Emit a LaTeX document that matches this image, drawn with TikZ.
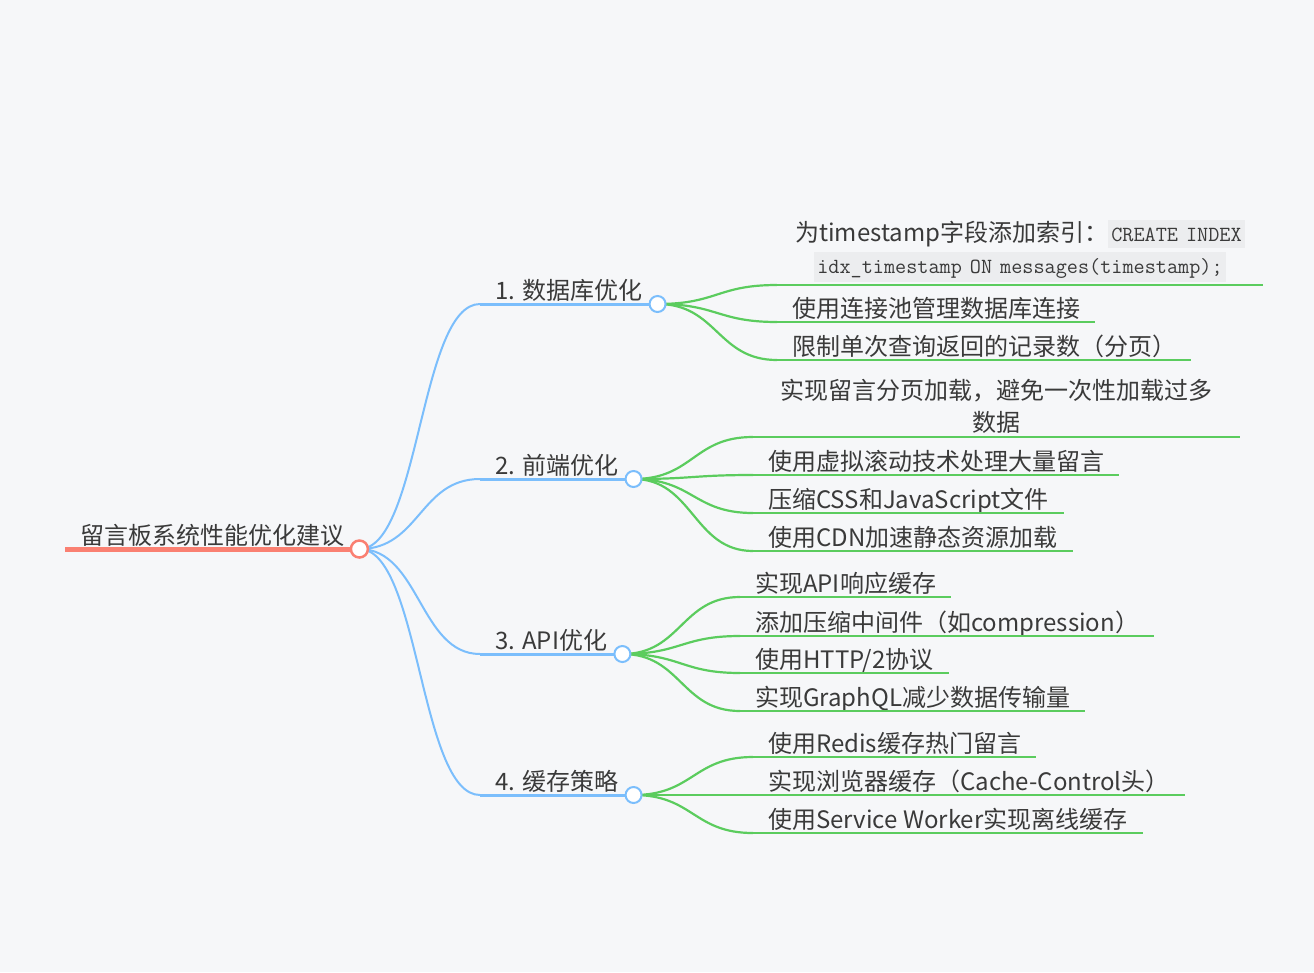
\documentclass[tikz,border=0pt]{standalone}
\usepackage{fontspec}
\setmainfont{Noto Sans CJK SC}
\usetikzlibrary{calc}
\definecolor{pagebg}{HTML}{F6F7F9}
\definecolor{rootcol}{HTML}{FA8072}
\definecolor{branchcol}{HTML}{7BBEFC}
\definecolor{twigcol}{HTML}{5BCC5E}
\definecolor{codebg}{HTML}{ECEDEF}
\definecolor{ink}{HTML}{3A3A3A}
\newcommand{\codebox}[1]{{\setlength{\fboxsep}{3pt}\colorbox{codebg}{\rule[-3pt]{0pt}{22pt}\fontsize{21.6}{24}\ttfamily #1}}}

\begin{document}
\begin{tikzpicture}[x=1pt, y=-1pt,
  every node/.style={font=\fontsize{24}{32}\selectfont, text=ink},
  topic/.style={anchor=south west, inner xsep=15pt, inner ysep=4pt, text depth=0pt},
  wrapped/.style={anchor=south, align=center, text width=#1, inner ysep=3pt},
  link/.style={to path={let \p1=(\tikztostart), \p2=(\tikztotarget) in
    .. controls ({(\x1+\x2)/2},\y1) and ({(\x1+\x2)/2},\y2) .. (\tikztotarget)}},
  branch/.style={branchcol, line width=2pt},
  twig/.style={twigcol, line width=2.2pt},
  knob/.style={circle, fill=white, line width=2pt, minimum size=16pt, inner sep=0pt}]

  \fill[pagebg] (0,0) rectangle (1314,972);

  % --- Root ---
  \node[topic] (root) at (65,549) {留言板系统性能优化建议};
  \draw[rootcol, line width=5pt] (root.south west) -- (root.south east);

  % --- Main branches ---
  \foreach \name/\y/\txt in {db/304/1. 数据库优化, fe/479/2. 前端优化,
                             api/654/3. API优化, cache/795/4. 缓存策略} {
    \node[topic] (\name) at (480,\y) {\txt};
    \draw[branch] (root.south east) to[link] (\name.south west);
    \draw[branchcol, line width=3pt] (\name.south west) -- (\name.south east);
  }
  \node[knob, draw=rootcol, line width=2.5pt, minimum size=17pt] (root-knob) at (root.south east) {};

  % --- 1. database ---
  \node[wrapped=472pt, inner xsep=7pt] (db1) at (1020,285)
    {为timestamp字段添加索引：\codebox{CREATE INDEX}\\\codebox{idx\_timestamp ON messages(timestamp);}};
  \draw[twig] (db.south east) to[link] (db1.south west);
  \draw[twig] (db1.south west) -- (db1.south east);
  \foreach \name/\y/\txt in {db2/322/{使用连接池管理数据库连接}, db3/360/{限制单次查询返回的记录数（分页）}} {
    \node[topic] (\name) at (777,\y) {\txt};
    \draw[twig] (db.south east) to[link] (\name.south west);
    \draw[twig] (\name.south west) -- (\name.south east);
  }
  \node[knob, draw=branchcol] (db-knob) at (db.south east) {};

  % --- 2. frontend ---
  \node[wrapped=457pt, inner xsep=15pt] (fe1) at (996.5,437) {实现留言分页加载，避免一次性加载过多\\数据};
  \draw[twig] (fe.south east) to[link] (fe1.south west);
  \draw[twig] (fe1.south west) -- (fe1.south east);
  \foreach \name/\y/\txt in {fe2/475/{使用虚拟滚动技术处理大量留言}, fe3/513/{压缩CSS和JavaScript文件},
                             fe4/551/{使用CDN加速静态资源加载}} {
    \node[topic] (\name) at (753,\y) {\txt};
    \draw[twig] (fe.south east) to[link] (\name.south west);
    \draw[twig] (\name.south west) -- (\name.south east);
  }
  \node[knob, draw=branchcol] (fe-knob) at (fe.south east) {};

  % --- 3. API ---
  \foreach \name/\y/\txt in {api1/597/{实现API响应缓存}, api2/636/{添加压缩中间件（如compression）},
                             api3/673/{使用HTTP/2协议}, api4/711/{实现GraphQL减少数据传输量}} {
    \node[topic] (\name) at (740,\y) {\txt};
    \draw[twig] (api.south east) to[link] (\name.south west);
    \draw[twig] (\name.south west) -- (\name.south east);
  }
  \node[knob, draw=branchcol] (api-knob) at (api.south east) {};

  % --- 4. cache ---
  \foreach \name/\y/\txt in {cache1/757/{使用Redis缓存热门留言}, cache2/795/{实现浏览器缓存（Cache-Control头）},
                             cache3/833/{使用Service Worker实现离线缓存}} {
    \node[topic] (\name) at (753,\y) {\txt};
    \draw[twig] (cache.south east) to[link] (\name.south west);
    \draw[twig] (\name.south west) -- (\name.south east);
  }
  \node[knob, draw=branchcol] (cache-knob) at (cache.south east) {};
\end{tikzpicture}
\end{document}
